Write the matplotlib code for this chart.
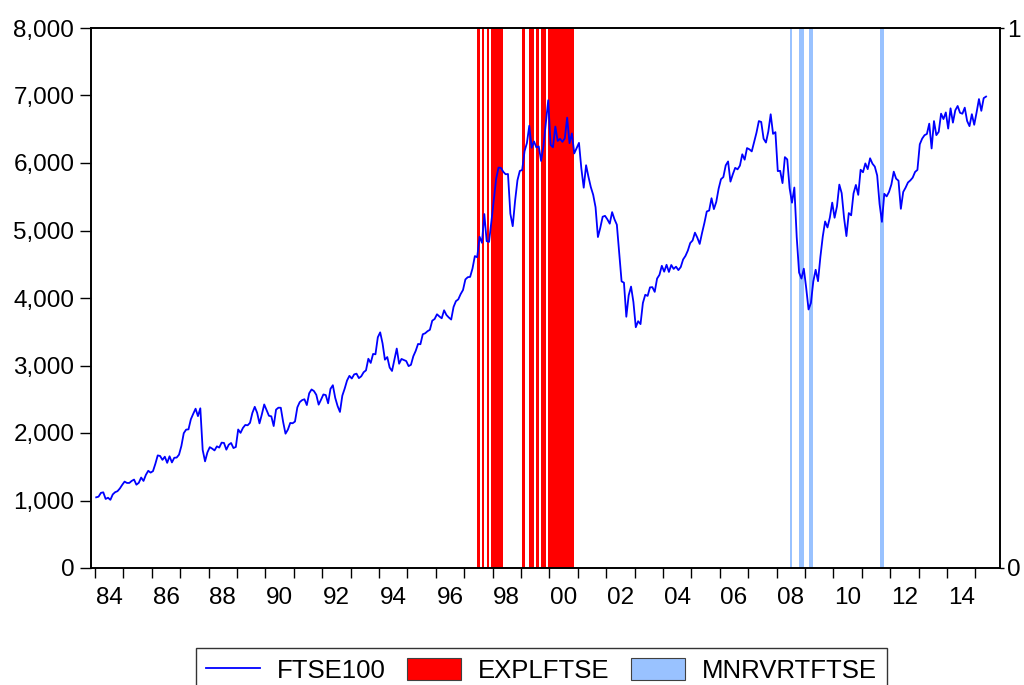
import numpy as np
import matplotlib
matplotlib.use("Agg")
import matplotlib.pyplot as plt
from matplotlib.lines import Line2D
from matplotlib.patches import Patch

# FTSE100 month-end level, 1984m1 .. 2015m5 (one row per year)
ftse_1984 = [1047, 1057, 1113, 1121, 1023, 1041, 1010, 1090, 1123, 1138, 1178, 1232]
ftse_1985 = [1280, 1260, 1260, 1290, 1310, 1234, 1262, 1340, 1290, 1380, 1440, 1413]
ftse_1986 = [1435, 1543, 1668, 1660, 1602, 1649, 1558, 1655, 1564, 1633, 1636, 1679]
ftse_1987 = [1808, 1997, 2050, 2054, 2203, 2284, 2360, 2250, 2366, 1749, 1580, 1713]
ftse_1988 = [1790, 1769, 1742, 1802, 1784, 1857, 1853, 1753, 1826, 1852, 1777, 1793]
ftse_1989 = [2052, 2002, 2075, 2119, 2114, 2151, 2298, 2388, 2300, 2143, 2276, 2423]
ftse_1990 = [2337, 2255, 2247, 2103, 2346, 2375, 2374, 2163, 1990, 2050, 2149, 2144]
ftse_1991 = [2170, 2380, 2457, 2487, 2500, 2414, 2588, 2645, 2622, 2566, 2420, 2493]
ftse_1992 = [2571, 2562, 2440, 2654, 2708, 2521, 2400, 2312, 2553, 2658, 2778, 2847]
ftse_1993 = [2807, 2868, 2879, 2813, 2840, 2900, 2928, 3100, 3038, 3171, 3166, 3418]
ftse_1994 = [3491, 3328, 3086, 3125, 2970, 2919, 3082, 3251, 3026, 3097, 3081, 3066]
ftse_1995 = [2991, 3010, 3137, 3216, 3319, 3315, 3463, 3477, 3508, 3529, 3664, 3689]
ftse_1996 = [3759, 3727, 3699, 3818, 3748, 3711, 3681, 3867, 3953, 3980, 4058, 4119]
ftse_1997 = [4275, 4308, 4313, 4436, 4621, 4604, 4907, 4818, 5244, 4842, 4831, 5136]
ftse_1998 = [5458, 5767, 5932, 5928, 5870, 5833, 5837, 5249, 5064, 5438, 5744, 5883]
ftse_1999 = [5896, 6175, 6296, 6552, 6226, 6319, 6231, 6246, 6030, 6256, 6597, 6930]
ftse_2000 = [6268, 6233, 6540, 6327, 6359, 6313, 6365, 6672, 6294, 6438, 6142, 6222]
ftse_2001 = [6298, 5918, 5634, 5967, 5796, 5643, 5529, 5345, 4903, 5040, 5204, 5217]
ftse_2002 = [5165, 5101, 5272, 5166, 5086, 4656, 4246, 4227, 3722, 4040, 4169, 3940]
ftse_2003 = [3567, 3656, 3613, 3926, 4048, 4031, 4157, 4161, 4091, 4288, 4343, 4477]
ftse_2004 = [4390, 4492, 4386, 4489, 4431, 4464, 4413, 4459, 4571, 4624, 4703, 4814]
ftse_2005 = [4852, 4968, 4894, 4801, 4964, 5113, 5282, 5296, 5478, 5317, 5423, 5619]
ftse_2006 = [5760, 5792, 5965, 6023, 5724, 5833, 5928, 5906, 5961, 6129, 6049, 6221]
ftse_2007 = [6203, 6172, 6308, 6449, 6621, 6608, 6360, 6303, 6467, 6722, 6432, 6457]
ftse_2008 = [5880, 5884, 5702, 6087, 6053, 5626, 5412, 5637, 4902, 4377, 4288, 4434]
ftse_2009 = [4150, 3830, 3926, 4244, 4418, 4249, 4608, 4909, 5134, 5045, 5191, 5413]
ftse_2010 = [5189, 5355, 5680, 5553, 5188, 4917, 5258, 5225, 5549, 5675, 5528, 5900]
ftse_2011 = [5863, 5994, 5909, 6070, 5990, 5946, 5815, 5395, 5128, 5544, 5505, 5572]
ftse_2012 = [5682, 5872, 5768, 5738, 5321, 5571, 5635, 5711, 5742, 5783, 5867, 5898]
ftse_2013 = [6277, 6361, 6412, 6430, 6583, 6215, 6621, 6413, 6462, 6731, 6651, 6749]
ftse_2014 = [6510, 6810, 6598, 6780, 6845, 6744, 6730, 6820, 6623, 6546, 6723, 6566]
ftse_2015 = [6749, 6947, 6773, 6961, 6984]

# months flagged by the dummies (value 1)
expl_months = ["1997-07", "1997-09", "1997-11",
               "1998-01", "1998-02", "1998-03", "1998-04", "1998-05",
               "1999-02", "1999-05", "1999-06", "1999-08", "1999-10", "1999-11",
               "2000-01", "2000-02", "2000-03", "2000-04", "2000-05", "2000-06",
               "2000-07", "2000-08", "2000-09", "2000-10", "2000-11"]
mnrv_months = ["2008-07", "2008-11", "2008-12", "2009-03", "2009-04",
               "2011-09", "2011-10"]

start_year = 1984
yticks_left = [0, 1000, 2000, 3000, 4000, 5000, 6000, 7000, 8000]


def month_pos(s):
    y, m = s.split("-")
    return (int(y) - start_year) * 12 + int(m) - 1


def main():
    ftse = (ftse_1984 + ftse_1985 + ftse_1986 + ftse_1987 + ftse_1988 + ftse_1989
            + ftse_1990 + ftse_1991 + ftse_1992 + ftse_1993 + ftse_1994 + ftse_1995
            + ftse_1996 + ftse_1997 + ftse_1998 + ftse_1999 + ftse_2000 + ftse_2001
            + ftse_2002 + ftse_2003 + ftse_2004 + ftse_2005 + ftse_2006 + ftse_2007
            + ftse_2008 + ftse_2009 + ftse_2010 + ftse_2011 + ftse_2012 + ftse_2013
            + ftse_2014 + ftse_2015)
    t = start_year + (np.arange(len(ftse)) + 0.5) / 12.0

    plt.rcParams['font.family'] = ['Liberation Sans', 'DejaVu Sans']
    fs = 17.5

    fig = plt.figure(figsize=(10.24, 6.85), dpi=100)
    ax = fig.add_axes([91 / 1024, 1 - 568 / 685, 909 / 1024, 540 / 685])

    red = '#ff0000'
    lblue = '#99c2ff'
    for s in expl_months:
        i = month_pos(s)
        ax.axvspan(start_year + (i - 0.5) / 12, start_year + (i + 0.5) / 12,
                   color=red, lw=0, zorder=1)
    for s in mnrv_months:
        i = month_pos(s)
        ax.axvspan(start_year + (i - 0.5) / 12, start_year + (i + 0.5) / 12,
                   color=lblue, lw=0, zorder=1)

    ax.plot(t, ftse, color='#0000ff', lw=1.3, zorder=3)

    px_year = 28.4
    ax.set_xlim(start_year - 4 / px_year, start_year + 905 / px_year)
    ax.set_ylim(0, 8000)
    ax.set_yticks(yticks_left)
    ax.set_yticklabels([f"{v:,}" for v in yticks_left], fontsize=fs)

    years = np.arange(start_year, 2016)
    ax.set_xticks(years)
    ax.set_xticklabels([])
    lab_years = years[::2]
    ax.set_xticks(lab_years + 0.5, minor=True)
    ax.set_xticklabels([f"{y % 100:02d}" for y in lab_years], minor=True, fontsize=fs)
    ax.tick_params(axis='x', which='major', direction='out', length=7, width=1)
    ax.tick_params(axis='x', which='minor', length=0, pad=14)
    ax.tick_params(axis='y', direction='out', length=8, width=1, pad=4)

    ax2 = ax.twinx()
    ax2.set_ylim(0, 1)
    ax2.set_yticks([0, 1])
    ax2.set_yticklabels(["0", "1"], fontsize=fs)
    ax2.tick_params(axis='y', direction='out', length=3, width=1, pad=2)

    for a in (ax, ax2):
        for sp in a.spines.values():
            sp.set_linewidth(1.2)
            sp.set_color('black')

    handles = [Line2D([0], [0], color='#0000ff', lw=1.3),
               Patch(facecolor=red, edgecolor='#404040', lw=0.8),
               Patch(facecolor=lblue, edgecolor='#404040', lw=0.8)]
    labels = ["FTSE100", "EXPLFTSE", "MNRVRTFTSE"]
    leg = fig.legend(handles, labels, loc='upper center', ncol=3,
                     bbox_to_anchor=(541.5 / 1024, 1 - 648 / 685),
                     borderaxespad=0,
                     fontsize=18.5, frameon=True, fancybox=False, edgecolor='black',
                     handlelength=2.1, handleheight=0.9, handletextpad=0.65,
                     columnspacing=0.85, borderpad=0.4)
    leg.get_frame().set_linewidth(1.0)

    fig.savefig('out.png', dpi=100)


main()
